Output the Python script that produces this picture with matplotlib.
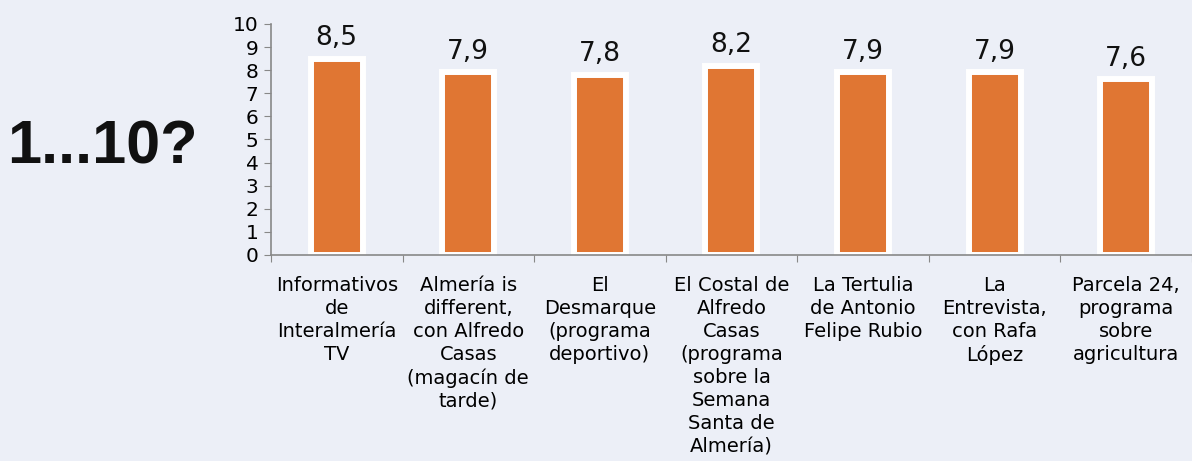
import matplotlib
matplotlib.use("Agg")
import matplotlib.pyplot as plt
import numpy as np

# valores
programas = [
    "Informativos\nde\nInteralmería\nTV",
    "Almería is\ndifferent,\ncon Alfredo\nCasas\n(magacín de\ntarde)",
    "El\nDesmarque\n(programa\ndeportivo)",
    "El Costal de\nAlfredo\nCasas\n(programa\nsobre la\nSemana\nSanta de\nAlmería)",
    "La Tertulia\nde Antonio\nFelipe Rubio",
    "La\nEntrevista,\ncon Rafa\nLópez",
    "Parcela 24,\nprograma\nsobre\nagricultura",
]
notas = [8.5, 7.9, 7.8, 8.2, 7.9, 7.9, 7.6]
etiquetas = ["8,5", "7,9", "7,8", "8,2", "7,9", "7,9", "7,6"]

fondo = "#ECEFF7"
naranja = "#E07633"
gris = "#888888"

fig = plt.figure(figsize=(11.92, 4.61), dpi=100, facecolor=fondo)
ax = fig.add_axes([0.2273, 0.4469, 0.7727, 0.5011])
ax.set_facecolor(fondo)

x = np.arange(len(notas))
ax.bar(x, notas, width=0.395, color=naranja, edgecolor="white", linewidth=4.3, zorder=2)

for xi, v, t in zip(x, notas, etiquetas):
    ax.text(xi, v + 0.32, t, ha="center", va="bottom", fontsize=19, color="#111111")

ax.set_xlim(-0.5, len(notas) - 0.5)
ax.set_ylim(0, 10)
ax.set_yticks(range(0, 11))
ax.tick_params(axis="y", labelsize=14.5, length=5, color=gris, pad=4, direction="out")

# marcas entre categorias, etiquetas en el centro
ax.set_xticks(np.arange(-0.5, len(notas), 1.0))
ax.set_xticklabels([])
ax.tick_params(axis="x", which="major", length=5, color=gris, direction="out")
ax.set_xticks(x, minor=True)
ax.set_xticklabels(programas, minor=True, fontsize=14, linespacing=1.27)
ax.tick_params(axis="x", which="minor", length=0, pad=15)

for s in ["top", "right"]:
    ax.spines[s].set_visible(False)
for s in ["left", "bottom"]:
    ax.spines[s].set_color(gris)
    ax.spines[s].set_linewidth(1.2)
    ax.spines[s].set_zorder(3)

fig.text(0.0855, 0.68, "1...10?", ha="center", va="center", fontsize=44,
         fontweight="bold", family=["Liberation Sans", "DejaVu Sans"], color="#111111")

fig.savefig("out.png", dpi=100, facecolor=fondo)
